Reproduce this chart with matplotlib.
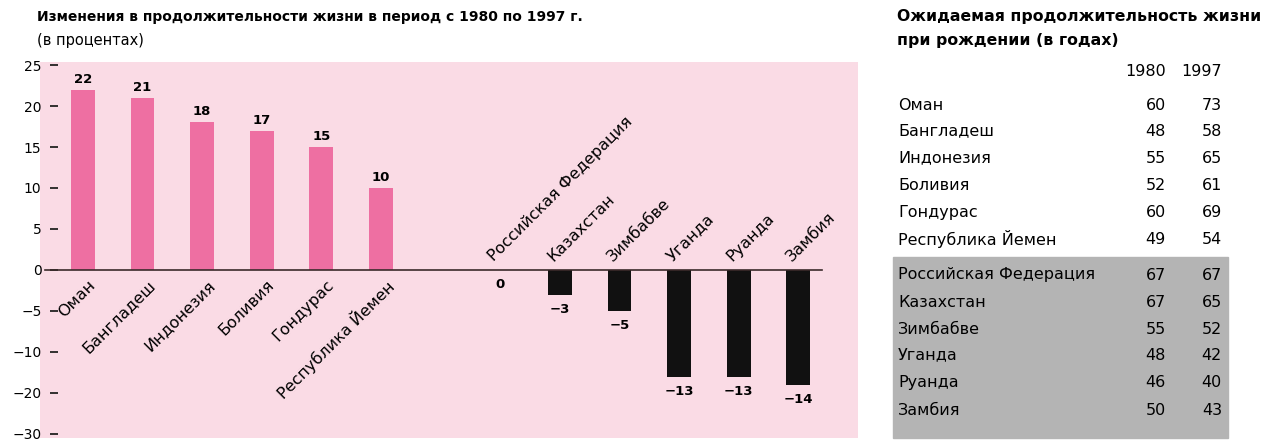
import numpy as np
import matplotlib.pyplot as plt
from matplotlib.patches import Rectangle

plt.rcParams['font.family'] = ['DejaVu Sans']

# Data
countries_up = ['Оман', 'Бангладеш', 'Индонезия', 'Боливия', 'Гондурас', 'Республика Йемен']
change_up = [22, 21, 18, 17, 15, 10]
countries_down = ['Российская Федерация', 'Казахстан', 'Зимбабве', 'Уганда', 'Руанда', 'Замбия']
change_down = [0, -3, -5, -13, -13, -14]

# the printed axis is broken below -10: ticks at -15/-20 carry labels -20/-30
tick_vals = [25, 20, 15, 10, 5, 0, -5, -10, -15, -20]
tick_labels = ['25', '20', '15', '10', '5', '0', '\u22125', '\u221210', '\u221220', '\u221230']

years = ['1980', '1997']
le_1980 = [60, 48, 55, 52, 60, 49, 67, 67, 55, 48, 46, 50]
le_1997 = [73, 58, 65, 61, 69, 54, 67, 65, 52, 42, 40, 43]

W, H = 1273, 440
fig = plt.figure(figsize=(W / 100, H / 100), dpi=100)

def fx(px):
    return px / W

def fy(py):
    return 1 - py / H

pink_bg = '#fadbe5'
pink_bar = '#ee6fa2'

ax = fig.add_axes([fx(40), fy(438), fx(858) - fx(40), fy(62) - fy(438)])
ax.set_facecolor(pink_bg)

x_up = np.arange(len(countries_up))
x_down = np.arange(len(countries_down)) + len(countries_up) + 1

ax.bar(x_up, change_up, width=0.4, color=pink_bar)
ax.bar(x_down, change_down, width=0.4, color='#111111')

ax.axhline(0, xmin=0.006, xmax=0.956, color='#3a2a2a', lw=1.2)

for x, v, name in zip(x_up, change_up, countries_up):
    ax.text(x, v + 0.5, str(v), ha='center', va='bottom', fontsize=9.5, fontweight='bold')
    ax.text(x + 0.08, -0.9, name, rotation=45, rotation_mode='anchor',
            ha='right', va='top', fontsize=11.5)

for x, v, name in zip(x_down, change_down, countries_down):
    lab = str(v).replace('-', '\u2212')
    ax.text(x, v - 1.0, lab, ha='center', va='top', fontsize=9.5, fontweight='bold')
    ax.text(x - 0.07, 0.7, name, rotation=45, rotation_mode='anchor',
            ha='left', va='bottom', fontsize=11.5)

ax.set_xlim(-0.72, 13.0)
ax.set_ylim(-20.5, 25.37)
ax.set_yticks(tick_vals)
ax.set_yticklabels(tick_labels, fontsize=10.5)
ax.set_xticks([])
for s in ax.spines.values():
    s.set_visible(False)
ax.spines['left'].set_position(('axes', 0.012))
ax.tick_params(axis='y', direction='in', length=6, width=1.3, pad=6, color='#222222')

# left title
fig.text(fx(37), fy(17), 'Изменения в продолжительности жизни в период с 1980 по 1997 г.',
         fontsize=10, fontweight='bold', va='center', ha='left')
fig.text(fx(37), fy(40), '(в процентах)', fontsize=10.5, va='center', ha='left')

# right table
fig.text(fx(897), fy(17), 'Ожидаемая продолжительность жизни',
         fontsize=11.3, fontweight='bold', va='center', ha='left')
fig.text(fx(897), fy(40), 'при рождении (в годах)',
         fontsize=11.3, fontweight='bold', va='center', ha='left')

fig.patches.append(Rectangle((fx(893), fy(438)), fx(1228) - fx(893), fy(257) - fy(438),
                             transform=fig.transFigure, color='#b4b4b4', zorder=0))

col_x = [1166, 1222]
for cx, yr in zip(col_x, years):
    fig.text(fx(cx), fy(72), yr, fontsize=11.5, ha='right', va='center')

names = countries_up + countries_down
row_y = [105, 131, 158, 185, 212, 239, 275, 302, 329, 355, 382, 410]
for name, ry, a, b in zip(names, row_y, le_1980, le_1997):
    fig.text(fx(898), fy(ry), name, fontsize=11.5, ha='left', va='center')
    fig.text(fx(col_x[0]), fy(ry), str(a), fontsize=11.5, ha='right', va='center')
    fig.text(fx(col_x[1]), fy(ry), str(b), fontsize=11.5, ha='right', va='center')

fig.savefig('out.png', dpi=100)
